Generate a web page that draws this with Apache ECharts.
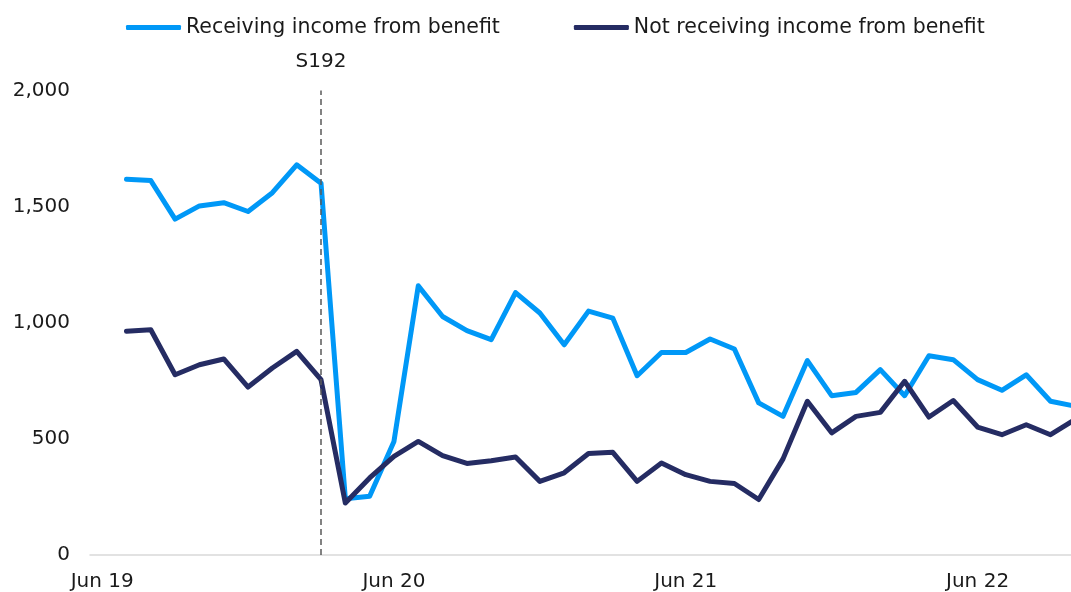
<!DOCTYPE html>
<html>
<head>
<meta charset="utf-8">
<script src="https://cdn.jsdelivr.net/npm/echarts@6/dist/echarts.min.js"></script>
<style>
  html, body { margin: 0; padding: 0; background: #fff; overflow: hidden; }
  #content { width: 1087px; height: 592px; }
</style>
</head>
<body>
<div id="content"></div>
<script>
var months = ['Jun 19','Jul 19','Aug 19','Sep 19','Oct 19','Nov 19','Dec 19','Jan 20','Feb 20','Mar 20',
    'Apr 20','May 20','Jun 20','Jul 20','Aug 20','Sep 20','Oct 20','Nov 20','Dec 20','Jan 21',
    'Feb 21','Mar 21','Apr 21','May 21','Jun 21','Jul 21','Aug 21','Sep 21','Oct 21','Nov 21',
    'Dec 21','Jan 22','Feb 22','Mar 22','Apr 22','May 22','Jun 22','Jul 22','Aug 22','Sep 22','Oct 22'];

var receiving = [null, 1618, 1612, 1446, 1503, 1517, 1479, 1560, 1680, 1601,
    242, 253, 489, 1159, 1027, 966, 927, 1130, 1042, 905,
    1050, 1020, 772, 872, 872, 930, 887, 655, 597, 837,
    686, 700, 798, 686, 858, 841, 755, 709, 776, 662, 641];

var notReceiving = [null, 963, 970, 776, 819, 844, 723, 805, 877, 755,
    224, 332, 425, 489, 428, 394, 406, 422, 317, 354,
    437, 442, 317, 396, 346, 317, 308, 239, 414, 662,
    526, 597, 614, 748, 594, 665, 551, 518, 561, 518, 583];

var eventMonth = 'Mar 20';
var eventLabel = 'S192';

var font = 'DejaVu Sans, Verdana, sans-serif';

// the plot runs a little past the right edge of the window, as in the original
var myChart = echarts.init(document.getElementById('content'));
myChart.setOption({
    animation: false,
    textStyle: { fontFamily: font },
    legend: {
        left: 121,
        top: 12,
        icon: 'roundRect',
        itemWidth: 55,
        itemHeight: 5,
        itemGap: 74,
        textStyle: { fontFamily: font, fontSize: 20.5, color: '#1a1a1a' },
        data: ['Receiving income from benefit', 'Not receiving income from benefit']
    },
    grid: { left: 90, right: 0, top: 90.5, bottom: 36.5 },
    xAxis: {
        type: 'category',
        boundaryGap: true,
        data: months,
        axisLine: { show: true, lineStyle: { color: '#d9d9d9', width: 1.5 } },
        axisTick: { show: false },
        axisLabel: { interval: 11, margin: 17, fontSize: 20, color: '#1a1a1a', fontFamily: font }
    },
    yAxis: {
        type: 'value',
        min: 0,
        max: 2000,
        interval: 500,
        axisLine: { show: false },
        axisTick: { show: false },
        splitLine: { show: false },
        axisLabel: {
            margin: 20,
            fontSize: 20,
            color: '#1a1a1a',
            fontFamily: font,
            formatter: function (v) { return v.toLocaleString('en-US'); }
        }
    },
    series: [
        {
            name: 'Receiving income from benefit',
            type: 'line',
            symbol: 'none',
            data: receiving,
            itemStyle: { color: '#0098F7' },
            lineStyle: { width: 5, color: '#0098F7', cap: 'round', join: 'round' },
            markLine: {
                silent: true,
                symbol: ['none', 'none'],
                lineStyle: { color: '#595959', width: 1.5, type: [6, 4] },
                label: {
                    show: true,
                    position: 'end',
                    distance: 19,
                    formatter: eventLabel,
                    fontSize: 20,
                    color: '#1a1a1a',
                    fontFamily: font
                },
                data: [{ xAxis: eventMonth }]
            },
            z: 2
        },
        {
            name: 'Not receiving income from benefit',
            type: 'line',
            symbol: 'none',
            data: notReceiving,
            itemStyle: { color: '#252C63' },
            lineStyle: { width: 5, color: '#252C63', cap: 'round', join: 'round' },
            z: 3
        }
    ]
});
</script>
</body>
</html>
